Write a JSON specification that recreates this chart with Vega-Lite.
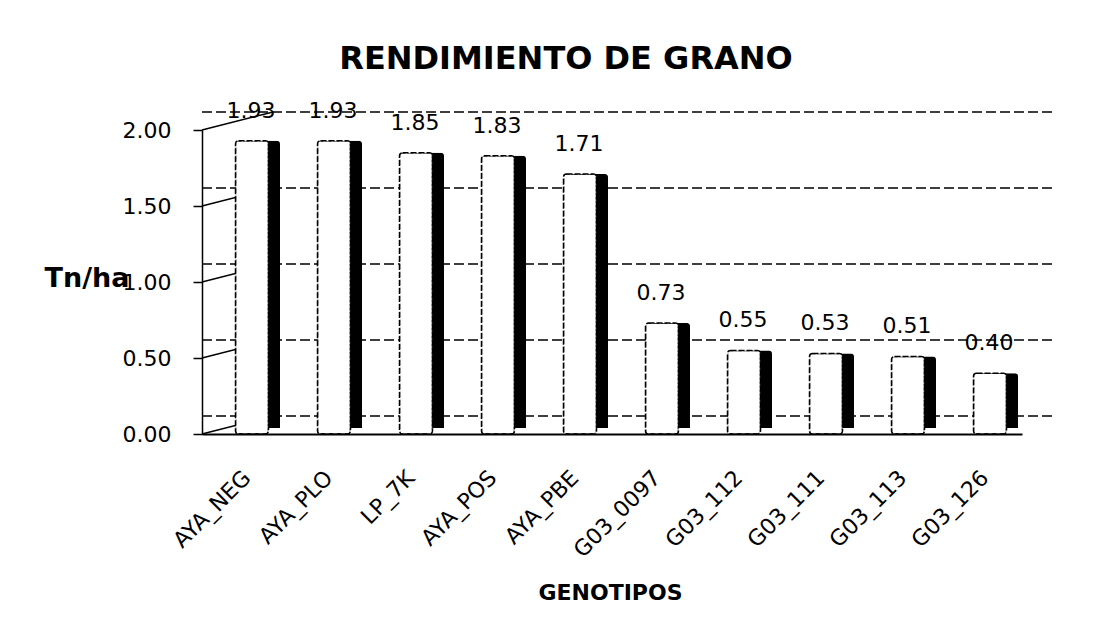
{
  "$schema": "https://vega.github.io/schema/vega-lite/v6.json",
  "width": 820,
  "height": 304,
  "autosize": {"type": "none"},
  "padding": {"left": 202, "top": 130, "right": 93, "bottom": 188},
  "background": "white",
  "title": {"text": "RENDIMIENTO DE GRANO", "font": "DejaVu Sans", "fontSize": 32, "fontWeight": "bold", "color": "black", "anchor": "middle", "dx": -46, "offset": 24},
  "config": {
    "view": {"stroke": null},
    "font": "DejaVu Sans",
    "axisY": {
      "grid": false, "domainColor": "black", "domainWidth": 1.5, "tickColor": "black", "tickWidth": 1.5, "tickSize": 9,
      "labelFont": "DejaVu Sans", "labelFontSize": 22, "labelColor": "black", "labelPadding": 22,
      "titleAngle": 0, "titleFont": "DejaVu Sans", "titleFontWeight": "bold", "titleFontSize": 27, "titleColor": "black",
      "titleAlign": "right", "titleBaseline": "middle", "titleX": -73, "titleY": 148
    },
    "axisX": {
      "grid": false, "labelAngle": -45, "labelAlign": "right", "labelBaseline": "middle", "labelOffset": 4, "labelPadding": 40,
      "labelFont": "DejaVu Sans", "labelFontSize": 22, "labelColor": "black",
      "ticks": false, "domainColor": "black", "domainWidth": 2,
      "titleFont": "DejaVu Sans", "titleFontWeight": "bold", "titleFontSize": 22, "titleColor": "black",
      "titleX": 408, "titleY": 158, "titleAlign": "center", "titleBaseline": "middle"
    }
  },
  "datasets": {
    "bars": [
      {"genotipo": "AYA_NEG", "rendimiento": 1.93},
      {"genotipo": "AYA_PLO", "rendimiento": 1.93},
      {"genotipo": "LP_7K", "rendimiento": 1.85},
      {"genotipo": "AYA_POS", "rendimiento": 1.83},
      {"genotipo": "AYA_PBE", "rendimiento": 1.71},
      {"genotipo": "G03_0097", "rendimiento": 0.73},
      {"genotipo": "G03_112", "rendimiento": 0.55},
      {"genotipo": "G03_111", "rendimiento": 0.53},
      {"genotipo": "G03_113", "rendimiento": 0.51},
      {"genotipo": "G03_126", "rendimiento": 0.40}
    ],
    "grid": [{"v": 0}, {"v": 0.5}, {"v": 1}, {"v": 1.5}, {"v": 2}]
  },
  "layer": [
    {
      "data": {"name": "grid"},
      "mark": {"type": "rule", "xOffset": 30, "yOffset": -18, "strokeDash": [10, 4], "color": "black", "strokeWidth": 1.5},
      "encoding": {
        "y": {
          "field": "v", "type": "quantitative", "title": "Tn/ha",
          "scale": {"domain": [0, 2], "nice": false},
          "axis": {"values": [0, 0.5, 1, 1.5, 2], "format": ".2f"}
        }
      }
    },
    {
      "data": {"name": "grid"},
      "mark": {"type": "rule", "x2Offset": 30, "y2Offset": -18, "color": "black", "strokeWidth": 1.5},
      "encoding": {
        "x": {"datum": "AYA_NEG", "type": "nominal", "bandPosition": 0, "title": "GENOTIPOS"},
        "x2": {"datum": "AYA_NEG"},
        "y": {"field": "v", "type": "quantitative", "title": "Tn/ha", "axis": {"values": [0, 0.5, 1, 1.5, 2], "format": ".2f"}},
        "y2": {"field": "v"}
      }
    },
    {
      "data": {"name": "bars"},
      "mark": {"type": "bar", "color": "black", "size": 22, "xOffset": 26, "yOffset": -6, "cornerRadiusTopRight": 3},
      "encoding": {
        "x": {
          "field": "genotipo", "type": "nominal", "sort": null, "title": "GENOTIPOS",
          "scale": {"paddingInner": 0, "paddingOuter": 0}
        },
        "y": {"field": "rendimiento", "type": "quantitative", "title": "Tn/ha", "axis": {"values": [0, 0.5, 1, 1.5, 2], "format": ".2f"}}
      }
    },
    {
      "data": {"name": "bars"},
      "mark": {"type": "bar", "color": "white", "stroke": "black", "strokeWidth": 1.5, "strokeDash": [6, 2], "size": 33, "xOffset": 9, "cornerRadius": 3},
      "encoding": {
        "x": {"field": "genotipo", "type": "nominal", "sort": null, "title": "GENOTIPOS"},
        "y": {"field": "rendimiento", "type": "quantitative", "title": "Tn/ha", "axis": {"values": [0, 0.5, 1, 1.5, 2], "format": ".2f"}}
      }
    },
    {
      "data": {"name": "bars"},
      "mark": {"type": "text", "dy": -30, "xOffset": 8, "font": "DejaVu Sans", "fontSize": 22, "color": "black", "baseline": "middle"},
      "encoding": {
        "x": {"field": "genotipo", "type": "nominal", "sort": null, "title": "GENOTIPOS"},
        "y": {"field": "rendimiento", "type": "quantitative", "title": "Tn/ha", "axis": {"values": [0, 0.5, 1, 1.5, 2], "format": ".2f"}},
        "text": {"field": "rendimiento", "type": "quantitative", "format": ".2f"}
      }
    }
  ]
}
